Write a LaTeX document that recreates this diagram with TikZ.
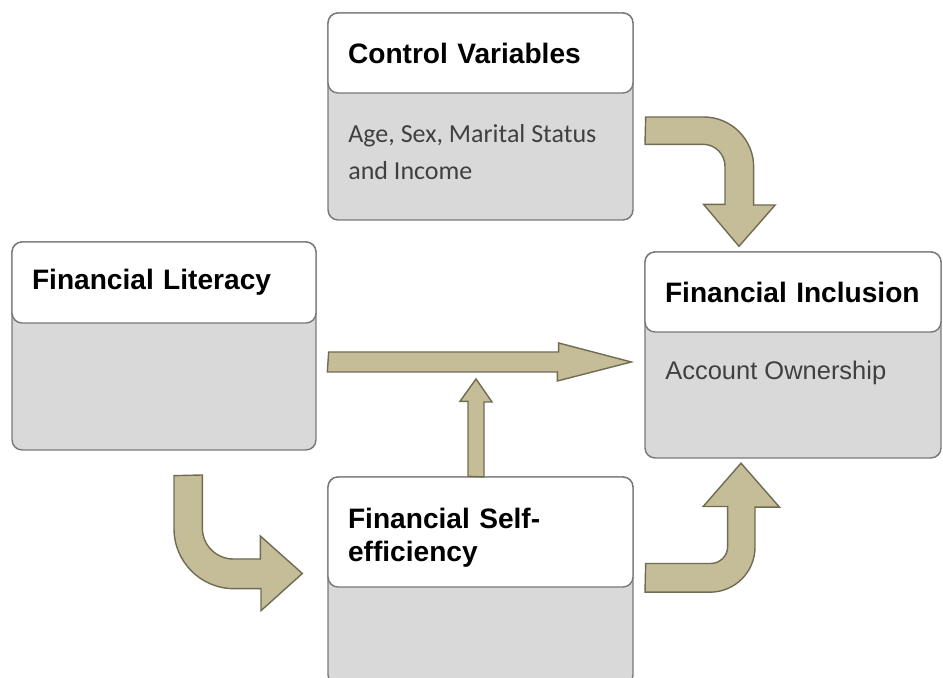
\documentclass[tikz,border=0pt]{standalone}
\usepackage{fontspec}
\setmainfont{Liberation Sans}
\newfontfamily\carlito{Carlito}
\usetikzlibrary{calc}
\definecolor{boxgrey}{RGB}{217,217,217}
\definecolor{boxline}{RGB}{120,120,120}
\definecolor{flowfill}{RGB}{196,189,151}
\definecolor{flowline}{RGB}{112,108,84}
\definecolor{notegrey}{RGB}{64,64,64}

\begin{document}
\begin{tikzpicture}[
  x=0.02cm, y=0.02cm,
  box/.style={rectangle, rounded corners=0.2cm, draw=boxline, fill=boxgrey, line width=0.8pt, inner sep=0pt},
  head/.style={rectangle, rounded corners=0.2cm, draw=boxline, fill=white, line width=0.8pt, anchor=north, align=left, inner xsep=0.4cm, inner ysep=0pt, font=\fontsize{16}{18.7}\selectfont\bfseries},
  note/.style={inner sep=0pt, align=left, text=notegrey, anchor=base west},
  flow/.style={draw=flowline, fill=flowfill, line width=0.8pt, line join=miter}
]

\useasboundingbox[fill=white] (0,0) rectangle (943,678);

% Boxes
\node[box, minimum width=6.1cm, minimum height=4.14cm] (ctrl) at (480.5,561.5) {};
\node[head, text width=5.3cm, minimum height=1.6cm] (ctrl-h) at (ctrl.north) {Control Variables};
\node[note, font=\carlito\fontsize{14.8}{21.5}\selectfont] (ctrl-t) at (348,498) {Age, Sex, Marital Status\\and Income};

\node[box, minimum width=6.08cm, minimum height=4.16cm] (lit) at (164,332) {};
\node[head, text width=5.28cm, minimum height=1.62cm] (lit-h) at (lit.north) {Financial Literacy};

\node[box, minimum width=5.92cm, minimum height=4.12cm] (incl) at (793,323) {};
\node[head, text width=5.12cm, minimum height=1.6cm] (incl-h) at (incl.north) {Financial Inclusion};
\node[note, font=\fontsize{14.5}{17}\selectfont] (incl-t) at (665,298) {Account Ownership};

\node[box, minimum width=6.1cm, minimum height=4.16cm] (self) at (480.5,97) {};
\node[head, text width=5.3cm, minimum height=2.2cm] (self-h) at (self.north) {\rule{0pt}{0.65cm}Financial Self-\\efficiency};

% Arrow ends
\coordinate (fl-a) at ($(lit.east)+(12,-16)$);
\coordinate (fl-b) at ($(incl.west)+(-13,-7)$);
\coordinate (cv-a) at ($(ctrl.east)+(12,-14.5)$);
\coordinate (cv-b) at ($(incl.north)+(-54,5)$);
\coordinate (fs-a) at ($(self.east)+(12,3.5)$);
\coordinate (fs-b) at ($(incl.south)+(-52,-4.5)$);
\coordinate (ls-a) at ($(lit.south)+(24.5,-25)$);
\coordinate (ls-b) at ($(self.west)+(-25,7.5)$);
\coordinate (sm-a) at ($(self.north)+(-4.5,0)$);
\coordinate (sm-b) at ($(sm-a |- fl-a)+(0,-17)$);

% Block arrows
\draw[flow] (fl-a) ++(0,10) -- ++(230,0) -- ++(0,9) -- (fl-b) -- ++(-74,-19) -- ++(0,9) -- ++(-230,0) -- cycle;
\draw[flow] (sm-a) ++(-8,0) -- ++(0,75) -- ++(-8,0) -- (sm-b) -- ++(16,-23) -- ++(-8,0) -- ++(0,-75) -- cycle;
\draw[flow] (cv-a) ++(0,14) -- ++(58,0) arc[start angle=90, end angle=0, radius=50] -- ++(0,-38) -- ++(21.5,0)
  -- (cv-b) -- ++(-35.5,42) -- ++(21.5,0) -- ++(0,38) arc[start angle=0, end angle=90, radius=22] -- ++(-58,0) -- cycle;
\draw[flow] (fs-a) ++(0,14) -- ++(65,0) arc[start angle=-90, end angle=0, radius=17] -- ++(0,40) -- ++(-24.5,0)
  -- (fs-b) -- ++(38.5,-44) -- ++(-24.5,0) -- ++(0,-40) arc[start angle=0, end angle=-90, radius=45] -- ++(-65,0) -- cycle;
\draw[flow] (ls-a) ++(-14.5,0) -- ++(0,-53) arc[start angle=180, end angle=270, radius=60] -- ++(27,0) -- ++(0,-22)
  -- (ls-b) -- ++(-42,37.5) -- ++(0,-23) -- ++(-27,0) arc[start angle=270, end angle=180, radius=31] -- ++(0,53) -- cycle;

\end{tikzpicture}
\end{document}
